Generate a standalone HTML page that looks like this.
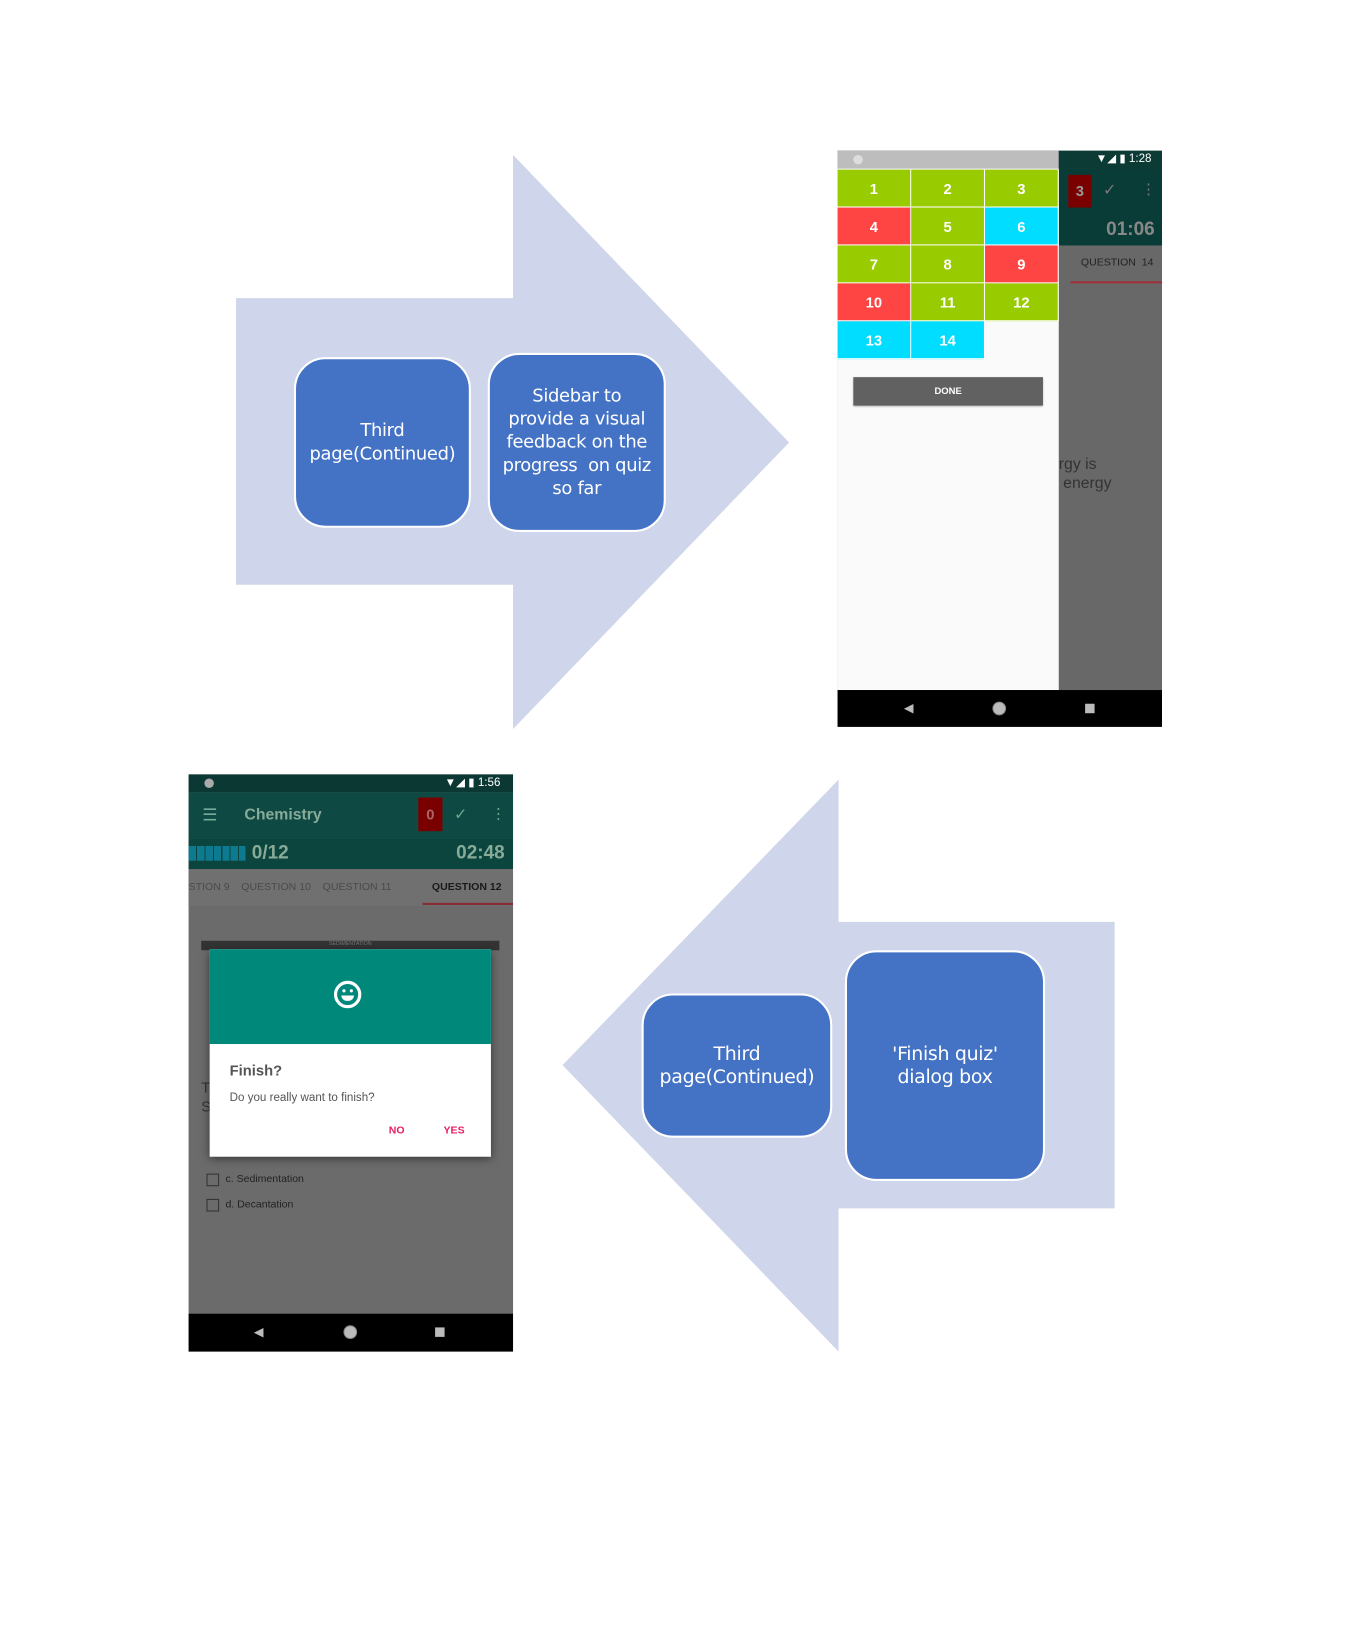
<!DOCTYPE html>
<html><head><meta charset="utf-8"><style>
html,body{margin:0;padding:0;background:#fff;width:1350px;height:1650px;overflow:hidden}
#w{position:absolute;left:0;top:0;width:1282px;height:1567px;transform:scale(1.0535);transform-origin:0 0;font-family:"Liberation Sans",sans-serif}
.a{position:absolute}
.box{position:absolute;background:#4472c4;border:2.5px solid #fff;border-radius:30px;color:#fff;display:flex;align-items:center;justify-content:center;text-align:center;font-size:17px;line-height:22px;box-sizing:border-box;font-family:"DejaVu Sans","Liberation Sans",sans-serif;letter-spacing:-0.3px}
.c{position:absolute;display:flex;align-items:center;justify-content:center;color:#fff;font-weight:bold;font-size:14px;box-sizing:border-box;border-right:1px solid #fff;border-bottom:1px solid #fff}
.G{background:#99cc00}.R{background:#ff4444}.C{background:#00ddff}
</style></head><body><div id="w">
<svg class="a" style="left:0;top:0" width="1282" height="1567">
<polygon points="224,283 487,283 487,147 749,420 487,692 487,555 224,555" fill="#cfd5ea"/>
<polygon points="1058,875 796,875 796,740 534,1011 796,1283 796,1147 1058,1147" fill="#cfd5ea"/>
</svg>
<div class="box" style="left:279px;top:339px;width:168px;height:162px">Third<br>page(Continued)</div>
<div class="box" style="left:463px;top:335px;width:169px;height:170px">Sidebar to<br>provide a visual<br>feedback on the<br>progress &nbsp;on quiz<br>so far</div>
<div class="box" style="left:609px;top:943px;width:181px;height:137px;font-size:18px">Third<br>page(Continued)</div>
<div class="box" style="left:802px;top:902px;width:190px;height:219px;font-size:18px">'Finish quiz'<br>dialog box</div>

<!-- right phone -->
<div class="a" style="left:795px;top:143px;width:308px;height:547px;background:#686868;overflow:hidden">
 <div class="a" style="left:0;top:0;width:210px;height:17px;background:#bdbdbd"></div>
 <div class="a" style="left:15px;top:4px;width:9px;height:9px;border-radius:5px;background:#ddd"></div>
 <div class="a" style="left:210px;top:0;width:98px;height:17px;background:#0c3a35;color:#fff;font-size:11px;line-height:17px;text-align:right;padding-right:10px;box-sizing:border-box">▼◢ ▮ 1:28</div>
 <div class="a" style="left:210px;top:17px;width:98px;height:73px;background:#0a3c37"></div>
 <div class="a" style="left:219px;top:23px;width:22px;height:31px;background:#7a0000;color:#999;font-weight:bold;font-size:14px;line-height:31px;text-align:center">3</div>
 <div class="a" style="left:252px;top:28px;color:#777;font-size:15px">✓</div>
 <div class="a" style="left:288px;top:28px;color:#777;font-size:14px">⋮</div>
 <div class="a" style="left:255px;top:64px;color:#888;font-weight:bold;font-size:18px">01:06</div>
 <div class="a" style="left:231px;top:101px;color:#222;font-size:10px">QUESTION &nbsp;14</div>
 <div class="a" style="left:221px;top:124px;width:87px;height:1.5px;background:#a0303a"></div>
 <div class="a" style="left:210px;top:289px;color:#333;font-size:15px;line-height:18px">rgy is<br>&nbsp;energy</div>
 <div class="a" style="left:0;top:17px;width:210px;height:495px;background:#fafafa"></div>
 <div class="c G" style="left:0;top:18px;width:70px;height:36px">1</div>
 <div class="c G" style="left:70px;top:18px;width:70px;height:36px">2</div>
 <div class="c G" style="left:140px;top:18px;width:70px;height:36px">3</div>
 <div class="c R" style="left:0;top:54px;width:70px;height:36px">4</div>
 <div class="c G" style="left:70px;top:54px;width:70px;height:36px">5</div>
 <div class="c C" style="left:140px;top:54px;width:70px;height:36px">6</div>
 <div class="c G" style="left:0;top:90px;width:70px;height:36px">7</div>
 <div class="c G" style="left:70px;top:90px;width:70px;height:36px">8</div>
 <div class="c R" style="left:140px;top:90px;width:70px;height:36px">9</div>
 <div class="c R" style="left:0;top:126px;width:70px;height:36px">10</div>
 <div class="c G" style="left:70px;top:126px;width:70px;height:36px">11</div>
 <div class="c G" style="left:140px;top:126px;width:70px;height:36px">12</div>
 <div class="c C" style="left:0;top:162px;width:70px;height:36px">13</div>
 <div class="c C" style="left:70px;top:162px;width:70px;height:36px">14</div>
 <div class="a" style="left:15px;top:215px;width:180px;height:27px;background:#616161;color:#fff;font-size:9px;font-weight:bold;line-height:27px;text-align:center;box-shadow:0 1px 2px #999">DONE</div>
 <div class="a" style="left:0;top:512px;width:308px;height:35px;background:#000"></div>
 <div class="a" style="left:63px;top:522px;color:#bbb;font-size:12px">◀</div>
 <div class="a" style="left:147px;top:523px;width:11px;height:11px;border-radius:7px;background:#bbb;border:1.5px solid #888"></div>
 <div class="a" style="left:235px;top:525px;width:9px;height:9px;background:#bbb"></div>
</div>

<!-- left phone -->
<div class="a" style="left:179px;top:735px;width:308px;height:548px;background:#6b6b6b;overflow:hidden">
 <div class="a" style="left:0;top:0;width:308px;height:17px;background:#0b3833;color:#fff;font-size:11px;line-height:17px;text-align:right;padding-right:12px;box-sizing:border-box">▼◢ ▮ 1:56</div>
 <div class="a" style="left:15px;top:4px;width:9px;height:9px;border-radius:5px;background:#aaa"></div>
 <div class="a" style="left:0;top:17px;width:308px;height:44px;background:#0e4a43"></div>
 <div class="a" style="left:13px;top:29px;color:#7a9;font-size:16px">☰</div>
 <div class="a" style="left:53px;top:30px;color:#8a9;font-size:15px;font-weight:bold">Chemistry</div>
 <div class="a" style="left:218px;top:22px;width:23px;height:32px;background:#7a0000;color:#a66;font-weight:bold;font-size:14px;line-height:32px;text-align:center">0</div>
 <div class="a" style="left:252px;top:29px;color:#6a8;font-size:15px">✓</div>
 <div class="a" style="left:287px;top:29px;color:#6a8;font-size:14px">⋮</div>
 <div class="a" style="left:0;top:61px;width:308px;height:29px;background:#0b453e"></div>
 <div class="a" style="left:0;top:68px;width:54px;height:14px;background:repeating-linear-gradient(90deg,#0e7a90 0 7px,#0b453e 7px 8px)"></div>
 <div class="a" style="left:60px;top:64px;color:#8a9;font-size:18px;font-weight:bold">0/12</div>
 <div class="a" style="left:254px;top:64px;color:#8a9;font-size:18px;font-weight:bold">02:48</div>
 <div class="a" style="left:0;top:90px;width:308px;height:35px;background:#707070"></div>
 <div class="a" style="left:0;top:102px;color:#4a4a4a;font-size:10px;white-space:nowrap">STION 9 &nbsp;&nbsp;&nbsp;QUESTION 10 &nbsp;&nbsp;&nbsp;QUESTION 11</div>
 <div class="a" style="left:231px;top:102px;color:#1a1a1a;font-size:10px;font-weight:bold">QUESTION 12</div>
 <div class="a" style="left:222px;top:122px;width:86px;height:1.5px;background:#8a2a36"></div>
 <div class="a" style="left:12px;top:158px;width:283px;height:9px;background:#333;color:#777;font-size:5px;text-align:center">SEDIMENTATION</div>
 <div class="a" style="left:12px;top:288px;color:#333;font-size:14px;line-height:18px">T<br>S</div>
 <div class="a" style="left:17px;top:379px;width:12px;height:12px;border:1.5px solid #333;box-sizing:border-box"></div>
 <div class="a" style="left:35px;top:379px;color:#222;font-size:10px">c. Sedimentation</div>
 <div class="a" style="left:17px;top:403px;width:12px;height:12px;border:1.5px solid #333;box-sizing:border-box"></div>
 <div class="a" style="left:35px;top:403px;color:#222;font-size:10px">d. Decantation</div>
 <div class="a" style="left:20px;top:166px;width:267px;height:197px;background:#fff;box-shadow:0 2px 8px rgba(0,0,0,.5)"></div>
 <div class="a" style="left:20px;top:166px;width:267px;height:90px;background:#00897b"></div>
 <div class="a" style="left:138px;top:196px;width:26px;height:26px;border:3px solid #fff;border-radius:50%;box-sizing:border-box"></div>
 <div class="a" style="left:146px;top:204px;width:3px;height:3px;background:#fff;border-radius:2px"></div>
 <div class="a" style="left:153px;top:204px;width:3px;height:3px;background:#fff;border-radius:2px"></div>
 <div class="a" style="left:145px;top:210px;width:12px;height:5px;background:#fff;border-radius:0 0 6px 6px"></div>
 <div class="a" style="left:39px;top:273px;color:#555;font-size:14px;font-weight:bold">Finish?</div>
 <div class="a" style="left:39px;top:301px;color:#555;font-size:11px">Do you really want to finish?</div>
 <div class="a" style="left:190px;top:333px;color:#e91e63;font-size:10px;font-weight:bold">NO</div>
 <div class="a" style="left:242px;top:333px;color:#e91e63;font-size:10px;font-weight:bold">YES</div>
 <div class="a" style="left:0;top:512px;width:308px;height:36px;background:#000"></div>
 <div class="a" style="left:62px;top:522px;color:#bbb;font-size:12px">◀</div>
 <div class="a" style="left:147px;top:523px;width:11px;height:11px;border-radius:7px;background:#bbb;border:1.5px solid #888"></div>
 <div class="a" style="left:234px;top:525px;width:9px;height:9px;background:#bbb"></div>
</div>
</div></body></html>
